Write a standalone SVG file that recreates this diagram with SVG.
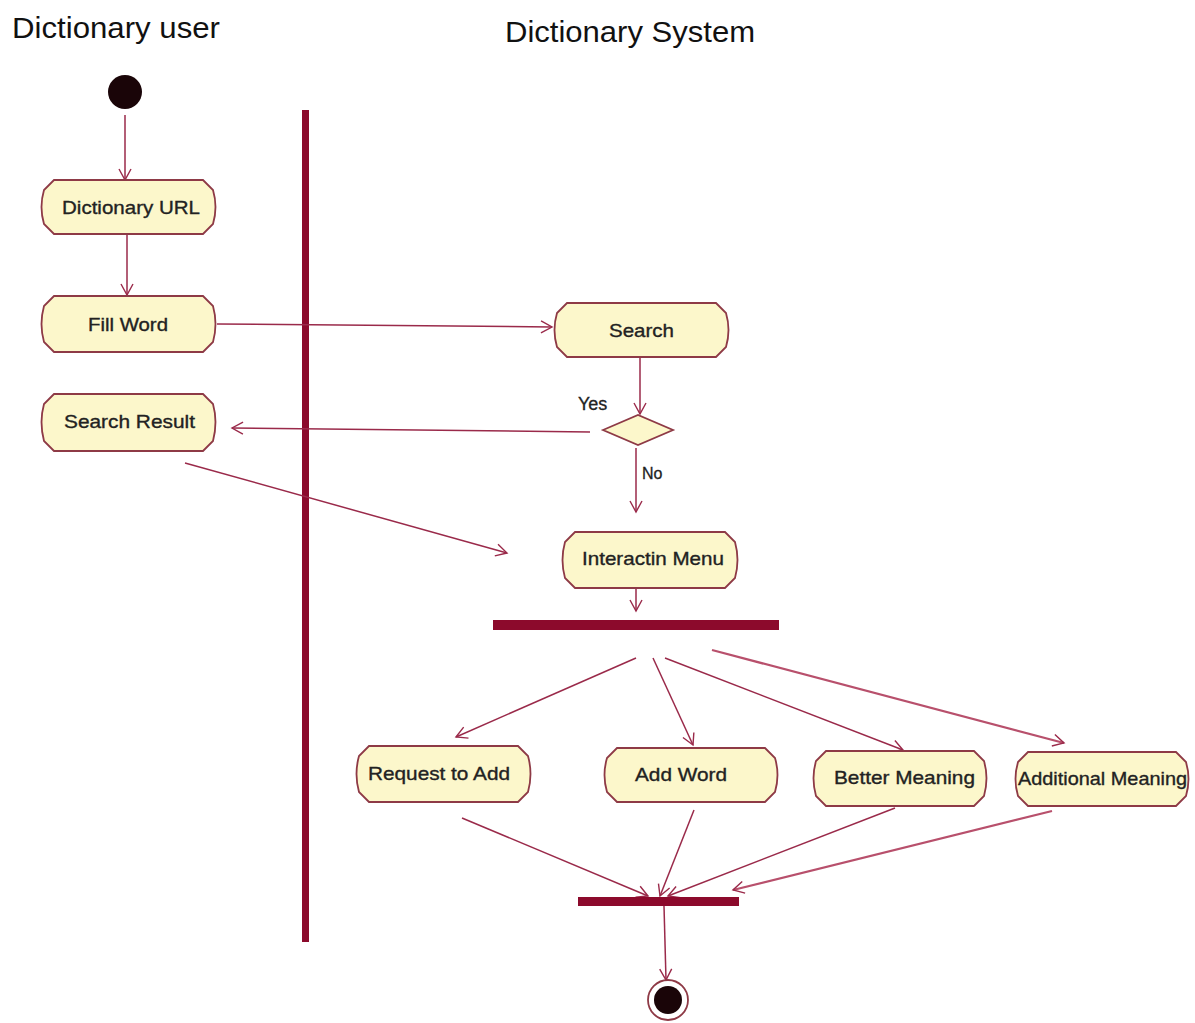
<svg xmlns="http://www.w3.org/2000/svg" width="1195" height="1023" viewBox="0 0 1195 1023">
  <defs>
    <marker id="arrow" markerWidth="14" markerHeight="14" refX="12" refY="7" orient="auto" markerUnits="userSpaceOnUse">
      <path d="M1,1 L12,7 L1,13" fill="none" stroke="#9a2a4a" stroke-width="1.4"/>
    </marker>
  </defs>
  <style>
    .title { font-family: "Liberation Sans", Arial, sans-serif; font-size: 29px; fill: #111; }
    .node path { fill: #fcf7cb; stroke: #8e3a46; stroke-width: 1.8; }
    .node text { font-family: "Liberation Sans", Arial, sans-serif; font-size: 19px; fill: #222; stroke: #222; stroke-width: 0.35; text-anchor: start; }
    .conn line { stroke: #9a2a4a; stroke-width: 1.5; fill: none; }
    .conn .thick { stroke: #b8506c; stroke-width: 2.2; }
    .bar { fill: #8c0a2c; }
    .guard { font-family: "Liberation Sans", Arial, sans-serif; fill: #222; stroke: #222; stroke-width: 0.3; }
  </style>
  <rect width="1195" height="1023" fill="#ffffff"/>

  <!-- lane titles -->
  <text class="title" x="12" y="38" textLength="208" lengthAdjust="spacingAndGlyphs">Dictionary user</text>
  <text class="title" x="505" y="42" textLength="250" lengthAdjust="spacingAndGlyphs">Dictionary System</text>

  <!-- lane separator -->
  <rect class="bar" x="302" y="110" width="7" height="832"/>

  <!-- connectors -->
  <g class="conn" id="connectors">
    <line x1="125" y1="115" x2="125" y2="180" marker-end="url(#arrow)"/>
    <line x1="127" y1="234" x2="127" y2="295" marker-end="url(#arrow)"/>
    <line x1="217" y1="324" x2="552" y2="327" marker-end="url(#arrow)"/>
    <line x1="640" y1="357" x2="640" y2="414" marker-end="url(#arrow)"/>
    <line x1="590" y1="432" x2="232" y2="428" marker-end="url(#arrow)"/>
    <line x1="636" y1="448" x2="636" y2="512" marker-end="url(#arrow)"/>
    <line x1="185" y1="463" x2="507" y2="553" marker-end="url(#arrow)"/>
    <line x1="636" y1="589" x2="636" y2="611" marker-end="url(#arrow)"/>
    <line x1="636" y1="658" x2="456" y2="737" marker-end="url(#arrow)"/>
    <line x1="653" y1="658" x2="693" y2="745" marker-end="url(#arrow)"/>
    <line x1="665" y1="658" x2="903" y2="750" marker-end="url(#arrow)"/>
    <line class="thick" x1="712" y1="650" x2="1064" y2="743" marker-end="url(#arrow)"/>
    <line x1="462" y1="818" x2="648" y2="896" marker-end="url(#arrow)"/>
    <line x1="694" y1="810" x2="660" y2="896" marker-end="url(#arrow)"/>
    <line x1="895" y1="808" x2="668" y2="896" marker-end="url(#arrow)"/>
    <line class="thick" x1="1052" y1="811" x2="733" y2="890" marker-end="url(#arrow)"/>
    <line x1="664" y1="906" x2="666" y2="980" marker-end="url(#arrow)"/>
  </g>

  <!-- guard labels -->
  <text class="guard" x="578" y="410" font-size="18">Yes</text>
  <text class="guard" x="642" y="479" font-size="16">No</text>

  <!-- initial node -->
  <g id="start">
    <circle cx="125" cy="92" r="17" fill="#1a0508"/>
  </g>

  <!-- action nodes -->
  <g class="node" id="dictionary-url">
    <path d="M54,180 H203 L213,190 Q218,207 213,224 L203,234 H54 L44,224 Q39,207 44,190 Z"/>
    <text x="62" y="214" textLength="138" lengthAdjust="spacingAndGlyphs">Dictionary URL</text>
  </g>
  <g class="node" id="fill-word">
    <path d="M54,296 H203 L213,306 Q218,324 213,342 L203,352 H54 L44,342 Q39,324 44,306 Z"/>
    <text x="88" y="331" textLength="80" lengthAdjust="spacingAndGlyphs">Fill Word</text>
  </g>
  <g class="node" id="search-result">
    <path d="M54,394 H203 L213,404 Q218,422 213,441 L203,451 H54 L44,441 Q39,422 44,404 Z"/>
    <text x="64" y="428" textLength="131" lengthAdjust="spacingAndGlyphs">Search Result</text>
  </g>
  <g class="node" id="search">
    <path d="M567,303 H716 L726,313 Q731,330 726,347 L716,357 H567 L557,347 Q552,330 557,313 Z"/>
    <text x="609" y="337" textLength="65" lengthAdjust="spacingAndGlyphs">Search</text>
  </g>
  <g class="node" id="decision">
    <path d="M603,430 L638,415 L673,430 L638,445 Z"/>
  </g>
  <g class="node" id="interaction-menu">
    <path d="M575,532 H725 L735,542 Q740,560 735,578 L725,588 H575 L565,578 Q560,560 565,542 Z"/>
    <text x="582" y="565" textLength="142" lengthAdjust="spacingAndGlyphs">Interactin Menu</text>
  </g>

  <!-- fork bar -->
  <g id="fork">
    <rect class="bar" x="493" y="620" width="286" height="10"/>
  </g>

  <g class="node" id="request-to-add">
    <path d="M369,746 H518 L528,756 Q533,774 528,792 L518,802 H369 L359,792 Q354,774 359,756 Z"/>
    <text x="368" y="780" textLength="142" lengthAdjust="spacingAndGlyphs">Request to Add</text>
  </g>
  <g class="node" id="add-word">
    <path d="M617,748 H765 L775,758 Q780,775 775,792 L765,802 H617 L607,792 Q602,775 607,758 Z"/>
    <text x="635" y="781" textLength="92" lengthAdjust="spacingAndGlyphs">Add Word</text>
  </g>
  <g class="node" id="better-meaning">
    <path d="M826,751 H974 L984,761 Q989,778 984,796 L974,806 H826 L816,796 Q811,778 816,761 Z"/>
    <text x="834" y="784" textLength="141" lengthAdjust="spacingAndGlyphs">Better Meaning</text>
  </g>
  <g class="node" id="additional-meaning">
    <path d="M1028,752 H1176 L1186,762 Q1191,779 1186,796 L1176,806 H1028 L1018,796 Q1013,779 1018,762 Z"/>
    <text x="1018" y="785" textLength="169" lengthAdjust="spacingAndGlyphs">Additional Meaning</text>
  </g>

  <!-- join bar -->
  <g id="join">
    <rect class="bar" x="578" y="897" width="161" height="9"/>
  </g>

  <!-- final node -->
  <g id="end">
    <circle cx="668" cy="1000" r="20" fill="#ffffff" stroke="#8e3a46" stroke-width="1.8"/>
    <circle cx="668" cy="1000" r="14" fill="#1a0508"/>
  </g>
</svg>
